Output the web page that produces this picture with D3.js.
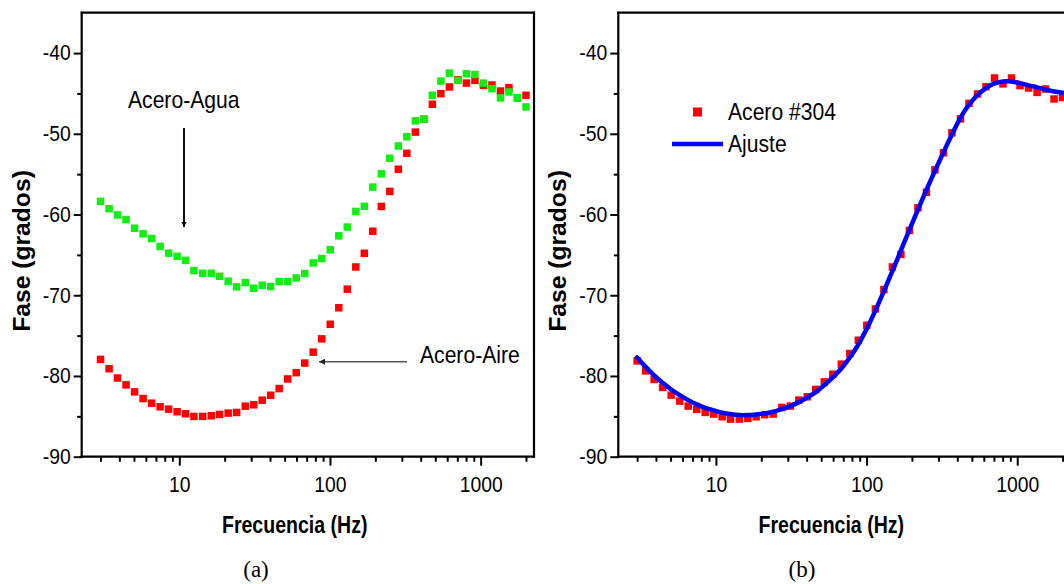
<!DOCTYPE html>
<html>
<head>
<meta charset="utf-8">
<script src="https://cdn.jsdelivr.net/npm/d3@7"></script>
<style>
  html, body { margin: 0; padding: 0; background: #fff; }
  svg { display: block; }
  text { font-family: "Liberation Sans", Arial, sans-serif; fill: #000; }
</style>
</head>
<body>
<svg id="chart" width="1064" height="584"></svg>
<script>
// ---- data ----
const frequencyHz = [3.00, 3.42, 3.89, 4.43, 5.05, 5.75, 6.55, 7.46, 8.49, 9.67,
  11.0, 12.5, 14.3, 16.3, 18.5, 21.1, 24.0, 27.4, 31.2, 35.5,
  40.4, 46.0, 52.4, 59.7, 68.0, 77.4, 88.2, 100.4, 114.4, 130.3,
  148.4, 169.0, 192.4, 219.2, 249.6, 284.2, 323.7, 368.7, 420.0, 478.2,
  544.6, 620.3, 706.5, 804.5, 916.2, 1043, 1189, 1354, 1541, 1755, 2000];

const aceroAguaPhase = [-58.37, -59.27, -60.05, -60.63, -61.7, -62.39, -62.97, -63.95, -64.78, -65.18,
  -65.68, -66.95, -67.28, -67.28, -67.65, -68.26, -68.96, -68.43, -69.13, -68.76,
  -68.92, -68.3, -68.3, -67.86, -67.32, -66.0, -65.45, -64.37, -62.64, -61.55,
  -59.62, -58.99, -56.6, -54.96, -53.03, -51.51, -50.37, -48.4, -48.19, -45.23,
  -43.47, -42.49, -43.39, -42.57, -42.65, -43.72, -44.41, -45.56, -44.82, -45.52, -46.67];

const aceroAirePhase = [-77.95, -79.1, -80.25, -81.1, -81.97, -82.8, -83.37, -83.82, -84.11, -84.43,
  -84.68, -85.01, -85.01, -84.93, -84.77, -84.6, -84.52, -83.74, -83.57, -83.0,
  -82.39, -81.56, -80.37, -79.59, -78.4, -77.05, -75.4, -73.6, -71.55, -69.25,
  -66.5, -64.8, -62.07, -59.0, -57.14, -54.39, -52.42, -49.79, -48.2, -46.34,
  -45.03, -44.2, -43.3, -43.72, -43.39, -44.0, -43.96, -44.7, -44.29, -45.55, -45.23];

const acero304Phase = [-78.13, -79.37, -80.43, -81.42, -82.37, -83.11, -83.73, -84.14, -84.51, -84.72,
  -85.05, -85.34, -85.34, -85.26, -85.05, -84.8, -84.72, -83.9, -83.73, -82.99,
  -82.58, -81.67, -80.73, -79.78, -78.54, -77.22, -75.57, -73.72, -71.7, -69.3,
  -66.5, -64.94, -61.97, -59.17, -57.24, -54.47, -52.35, -49.88, -48.15, -46.23,
  -45.07, -44.17, -43.09, -43.81, -43.09, -44.04, -44.33, -44.87, -44.45, -45.69, -45.5];

const ajustePhase = [-77.7, -78.87, -79.94, -80.85, -81.67, -82.37, -82.99, -83.52, -83.94, -84.26,
  -84.56, -84.72, -84.84, -84.84, -84.76, -84.64, -84.43, -84.1, -83.73, -83.24,
  -82.66, -82.0, -81.14, -80.18, -79.07, -77.71, -76.1, -74.13, -71.9, -69.5,
  -67.0, -64.45, -61.9, -59.4, -56.95, -54.6, -52.3, -50.1, -48.0, -46.4,
  -45.2, -44.33, -43.76, -43.51, -43.51, -43.72, -44.0, -44.25, -44.54, -44.75, -44.9];

const xMajorTicks = [10, 100, 1000];
const xMinorTicks = [3, 4, 5, 6, 7, 8, 9, 20, 30, 40, 50, 60, 70, 80, 90,
  200, 300, 400, 500, 600, 700, 800, 900, 2000];
const yMajorTicks = [-90, -80, -70, -60, -50, -40];
const yMinorTicks = [-85, -75, -65, -55, -45];
const xTitle = "Frecuencia (Hz)";
const yTitle = "Fase (grados)";
const panelLabels = ["(a)", "(b)"];
const seriesNames = ["Acero-Agua", "Acero-Aire", "Acero #304", "Ajuste"];

// ---- layout ----
const svg = d3.select("#chart");
const xDomain = [2.25, 2260];
const yDomain = [-90, -35];
const plotTop = 12.7, plotBottom = 456.7;
const panels = [
  { left: 81.7, right: 534, label: panelLabels[0], labelX: 256 },
  { left: 618.3, right: 1070.6, label: panelLabels[1], labelX: 802 }
];
const TICK_SX = 0.9;
const RED = "#ff0000", GREEN = "#11ee11", BLUE = "#0000ff";
const MS = 7.5; // marker size
const plainFormat = d => String(d); // ASCII hyphen-minus, as in the reference

function buildPanel(p) {
  const g = svg.append("g");
  const x = d3.scaleLog().domain(xDomain).range([p.left, p.right]);
  const y = d3.scaleLinear().domain(yDomain).range([plotBottom, plotTop]);

  const gxMin = g.append("g").attr("transform", `translate(0,${plotBottom})`)
    .call(d3.axisBottom(x).tickValues(xMinorTicks).tickSize(5).tickFormat(""));
  const gx = g.append("g").attr("transform", `translate(0,${plotBottom})`)
    .call(d3.axisBottom(x).tickValues(xMajorTicks).tickSize(9).tickPadding(11)
      .tickFormat(plainFormat));
  const gyMin = g.append("g").attr("transform", `translate(${p.left},0)`)
    .call(d3.axisLeft(y).tickValues(yMinorTicks).tickSize(4.5).tickFormat(""));
  const gy = g.append("g").attr("transform", `translate(${p.left},0)`)
    .call(d3.axisLeft(y).tickValues(yMajorTicks).tickSize(8).tickPadding(3)
      .tickFormat(plainFormat));

  [gxMin, gx, gyMin, gy].forEach(a => {
    a.select(".domain").remove();
    a.selectAll(".tick line").attr("stroke", "#000").attr("stroke-width", 2);
    a.selectAll("text").style("font-size", "21.5px")
      .style("font-family", "'Liberation Sans', Arial, sans-serif").attr("fill", "#000");
  });
  gx.selectAll(".tick text").attr("transform", `scale(${TICK_SX},1)`);
  gy.selectAll(".tick text").attr("transform", `scale(${TICK_SX},1)`)
    .attr("x", -11 / TICK_SX);

  const frame = g.append("g").attr("stroke", "#000").attr("stroke-width", 2.2).attr("fill", "none");
  frame.append("line").attr("x1", p.left).attr("x2", p.left).attr("y1", plotTop - 1).attr("y2", plotBottom + 1);
  frame.append("line").attr("x1", p.left - 1).attr("x2", p.right + 1).attr("y1", plotBottom).attr("y2", plotBottom);
  frame.append("line").attr("x1", p.left - 1).attr("x2", p.right + 1).attr("y1", plotTop).attr("y2", plotTop);
  frame.append("line").attr("x1", p.right).attr("x2", p.right).attr("y1", plotTop - 1).attr("y2", plotBottom + 1);

  g.append("text")
    .attr("transform", `translate(${(p.left + 213)},533) scale(0.85,1)`)
    .attr("text-anchor", "middle").style("font-weight", "bold").style("font-size", "23px")
    .text(xTitle);
  g.append("text")
    .attr("transform", `translate(${p.left - 52},251) rotate(-90) scale(1.05,1)`)
    .attr("text-anchor", "middle").style("font-weight", "bold").style("font-size", "23.5px")
    .text(yTitle);
  g.append("text")
    .attr("x", p.labelX).attr("y", 577).attr("text-anchor", "middle")
    .style("font-family", "'Liberation Serif', 'Times New Roman', serif").style("font-size", "23px")
    .text(p.label);

  return { g, x, y };
}

function squares(g, x, y, values, color) {
  g.append("g").selectAll("rect").data(values).join("rect")
    .attr("x", (d, i) => x(frequencyHz[i]) - MS / 2)
    .attr("y", d => y(d) - MS / 2)
    .attr("width", MS).attr("height", MS)
    .attr("fill", color);
}

function annotText(g, tx, ty, str) {
  g.append("text")
    .attr("transform", `translate(${tx},${ty}) scale(0.88,1)`)
    .style("font-size", "24px").text(str);
}

// ---- panel (a) ----
const A = buildPanel(panels[0]);
squares(A.g, A.x, A.y, aceroAirePhase, RED);
squares(A.g, A.x, A.y, aceroAguaPhase, GREEN);

const defs = svg.append("defs");
defs.append("marker").attr("id", "headBlack").attr("viewBox", "0 0 10 10")
  .attr("refX", 10).attr("refY", 5).attr("markerWidth", 5).attr("markerHeight", 11)
  .attr("markerUnits", "userSpaceOnUse").attr("orient", "auto")
  .append("path").attr("d", "M0,0 L10,5 L0,10 Z").attr("fill", "#000");
defs.append("marker").attr("id", "headGrey").attr("viewBox", "0 0 10 10")
  .attr("refX", 10).attr("refY", 5).attr("markerWidth", 10).attr("markerHeight", 6)
  .attr("markerUnits", "userSpaceOnUse").attr("orient", "auto")
  .append("path").attr("d", "M0,0 L10,5 L0,10 Z").attr("fill", "#222");

annotText(A.g, 128, 108, seriesNames[0]);
A.g.append("line").attr("x1", 184).attr("x2", 184).attr("y1", 128).attr("y2", 227)
  .attr("stroke", "#111").attr("stroke-width", 2).attr("marker-end", "url(#headBlack)");
annotText(A.g, 420, 363, seriesNames[1]);
A.g.append("line").attr("x1", 407).attr("x2", 319).attr("y1", 361.7).attr("y2", 361.7)
  .attr("stroke", "#555").attr("stroke-width", 1.5).attr("marker-end", "url(#headGrey)");

// ---- panel (b) ----
const B = buildPanel(panels[1]);
squares(B.g, B.x, B.y, acero304Phase, RED);
B.g.append("path")
  .datum(ajustePhase)
  .attr("d", d3.line().x((d, i) => B.x(frequencyHz[i])).y(d => B.y(d)).curve(d3.curveCatmullRom))
  .attr("fill", "none").attr("stroke", BLUE).attr("stroke-width", 4.5).attr("stroke-linecap", "round");

// legend
B.g.append("rect").attr("x", 693).attr("y", 107.5).attr("width", 9).attr("height", 9).attr("fill", RED);
annotText(B.g, 728, 120, seriesNames[2]);
B.g.append("line").attr("x1", 672).attr("x2", 723).attr("y1", 144).attr("y2", 144)
  .attr("stroke", BLUE).attr("stroke-width", 4.5);
annotText(B.g, 728, 152, seriesNames[3]);
</script>
</body>
</html>
